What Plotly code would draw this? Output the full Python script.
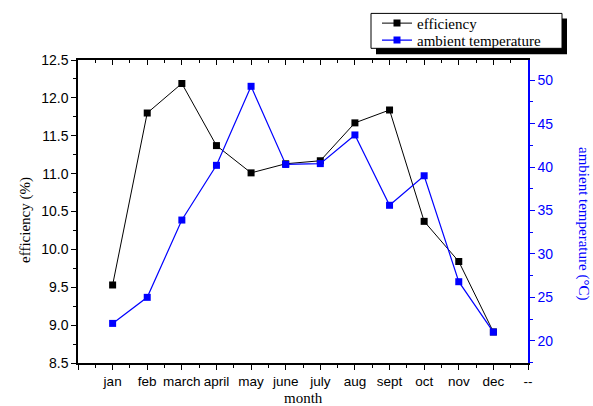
import plotly.graph_objects as go

months = ["jan", "feb", "march", "april", "may", "june", "july", "aug", "sept", "oct", "nov", "dec"]
month_pos = list(range(1, 13))
efficiency = [9.53, 11.80, 12.19, 11.37, 11.01, 11.13, 11.17, 11.67, 11.84, 10.37, 9.84, 8.91]
temperature = [22.0, 25.0, 33.9, 40.2, 49.3, 40.3, 40.4, 43.7, 35.6, 39.0, 26.8, 21.0]
x_tickvals = list(range(0, 14))
x_ticktext = [""] + months + ["--"]

W, H = 593, 406
L, R, T, B = 78, 65, 59.7, 42.7
PW, PH = W - L - R, H - T - B

def px_x(px):
    return (px - L) / PW

def px_y(py):
    return (H - B - py) / PH

SERIF = "Liberation Serif, Times New Roman, serif"
SANS = "Liberation Sans, Arial, sans-serif"
BLUE = "#0000ff"

fig = go.Figure()
fig.add_trace(go.Scatter(
    x=month_pos, y=efficiency, name="efficiency", mode="lines+markers",
    line=dict(color="black", width=1), marker=dict(symbol="square", size=7, color="black"),
    xaxis="x", yaxis="y", legend="legend"))
fig.add_trace(go.Scatter(
    x=month_pos, y=temperature, name="ambient temperature", mode="lines+markers",
    line=dict(color=BLUE, width=1.2), marker=dict(symbol="square", size=7, color=BLUE),
    xaxis="x", yaxis="y2", legend="legend2"))
fig.add_trace(go.Scatter(x=[], y=[], xaxis="x2", yaxis="y", showlegend=False))

leg_common = dict(xanchor="left", yanchor="middle", bgcolor="rgba(0,0,0,0)", borderwidth=0,
                  font=dict(family=SERIF, size=15, color="black"), itemwidth=30)

fig.update_layout(
    width=W, height=H, margin=dict(l=L, r=R, t=T, b=B, autoexpand=False),
    paper_bgcolor="white", plot_bgcolor="white",
    showlegend=True,
    xaxis=dict(range=[0, 13], tickmode="array", tickvals=x_tickvals, ticktext=x_ticktext,
               tickangle=0,
               showgrid=False, zeroline=False, showline=True, linecolor="black", linewidth=1.5,
               ticks="outside", ticklen=5, tickcolor="black", tickwidth=1.2,
               tickfont=dict(family=SANS, size=13.5, color="black"),
               minor=dict(tickmode="array", tickvals=[v + 0.5 for v in range(13)],
                          ticks="outside", ticklen=3, tickcolor="black")),
    xaxis2=dict(range=[0, 13], overlaying="x", side="top", tickmode="array",
                tickvals=x_tickvals, showticklabels=False, showgrid=False, zeroline=False,
                showline=True, linecolor="black", linewidth=1.5,
                ticks="inside", ticklen=5, tickcolor="black",
                minor=dict(tickmode="array", tickvals=[v + 0.5 for v in range(13)],
                           ticks="inside", ticklen=3, tickcolor="black")),
    yaxis=dict(range=[8.5, 12.5], dtick=0.5, tick0=8.5, tickformat=".1f",
               showgrid=False, zeroline=False, showline=True, linecolor="black", linewidth=1.5,
               ticks="outside", ticklen=5, tickcolor="black", tickwidth=1.2,
               tickfont=dict(family=SANS, size=14, color="black"),
               minor=dict(dtick=0.25, ticks="outside", ticklen=3, tickcolor="black")),
    yaxis2=dict(range=[17.44, 52.33], tickvals=[20, 25, 30, 35, 40, 45, 50], overlaying="y",
                side="right", showgrid=False, zeroline=False, showline=True,
                linecolor=BLUE, linewidth=1.5, ticks="outside", ticklen=5, tickcolor=BLUE,
                tickwidth=1.2, tickfont=dict(family=SANS, size=14, color=BLUE),
                minor=dict(tickvals=[17.5, 22.5, 27.5, 32.5, 37.5, 42.5, 47.5, 52.5],
                           ticks="outside", ticklen=3, tickcolor=BLUE)),
    legend=dict(x=px_x(377), y=px_y(23), **leg_common),
    legend2=dict(x=px_x(377), y=px_y(40), **leg_common),
    shapes=[
        dict(type="rect", xref="paper", yref="paper", x0=px_x(376), x1=px_x(567),
             y0=px_y(54), y1=px_y(18), fillcolor="black", line=dict(width=0), layer="above"),
        dict(type="rect", xref="paper", yref="paper", x0=px_x(371), x1=px_x(562),
             y0=px_y(48), y1=px_y(13), fillcolor="white", line=dict(color="black", width=1),
             layer="above"),
    ],
    annotations=[
        dict(text="month", xref="paper", yref="paper", x=px_x(303), y=px_y(398),
             showarrow=False, font=dict(family=SERIF, size=15, color="black"),
             xanchor="center", yanchor="middle"),
        dict(text="efficiency (%)", xref="paper", yref="paper", x=px_x(26), y=px_y(220),
             showarrow=False, textangle=-90, font=dict(family=SERIF, size=15, color="black"),
             xanchor="center", yanchor="middle"),
        dict(text="ambient temperature (°C)", xref="paper", yref="paper", x=px_x(583),
             y=px_y(223), showarrow=False, textangle=90,
             font=dict(family=SERIF, size=15, color=BLUE), xanchor="center", yanchor="middle"),
    ],
)

fig.write_html("out.html")
